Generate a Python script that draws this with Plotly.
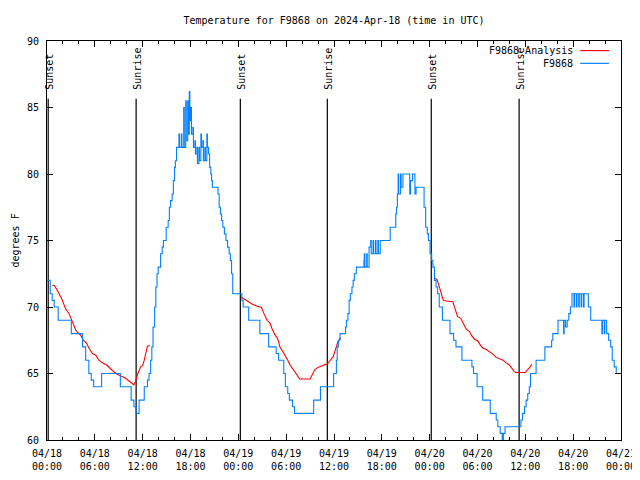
import pandas as pd
import plotly.graph_objects as go

START = pd.Timestamp("2024-04-18 00:00")
END = pd.Timestamp("2024-04-21 00:00")

# F9868 observations: hours after 2024-04-18 00:00 UTC, temperature (deg F)
obs_hours = [
    0.0, 0.4, 0.65, 0.9, 1.4, 3.05, 4.45, 4.85, 5.25, 5.55,
    5.85, 6.85, 9.2, 10.55, 10.9, 11.15, 11.55, 12.2, 12.6, 12.8,
    13.0, 13.15, 13.3, 13.5, 13.65, 13.8, 13.95, 14.25, 14.45, 14.6,
    14.95, 15.2, 15.35, 15.5, 15.7, 15.85, 16.0, 16.1, 16.25, 16.55,
    16.62, 16.85, 16.92, 17.15, 17.22, 17.4, 17.47, 17.65, 17.72, 17.85,
    17.92, 18.05, 18.12, 18.3, 18.37, 18.55, 18.62, 18.8, 18.87, 19.05,
    19.12, 19.3, 19.37, 19.55, 19.62, 19.8, 19.87, 20.05, 20.12, 20.25,
    20.4, 20.55, 20.65, 20.75, 21.45, 21.6, 21.75, 21.9, 22.05, 22.25,
    22.45, 22.65, 22.85, 23.0, 23.15, 23.3, 24.45, 24.6, 25.3, 26.7,
    27.8, 28.75, 29.05, 29.7, 29.9, 30.2, 30.4, 30.8, 31.05, 33.45,
    34.3, 35.95, 36.3, 36.4, 36.55, 36.75, 37.45, 37.55, 37.75, 37.9,
    38.05, 38.25, 38.4, 38.55, 38.8, 39.75, 39.8, 39.87, 40.1, 40.17,
    40.4, 40.6, 40.67, 40.9, 40.97, 41.2, 41.27, 41.5, 41.57, 41.8,
    43.05, 43.75, 43.85, 43.95, 44.05, 44.12, 44.35, 44.42, 44.65, 45.5,
    45.6, 45.85, 46.15, 46.3, 47.3, 47.5, 47.7, 47.85, 48.05, 48.25,
    48.4, 48.6, 48.8, 49.0, 49.2, 49.6, 50.55, 51.0, 51.3, 52.05,
    53.3, 53.5, 53.95, 54.65, 55.6, 56.35, 56.55, 56.85, 57.1, 57.25,
    57.45, 59.45, 59.65, 59.9, 60.1, 60.3, 60.5, 60.65, 61.35, 62.45,
    63.3, 63.45, 64.1, 64.8, 64.87, 65.05, 65.25, 65.45, 65.65, 65.85,
    66.1, 66.17, 66.4, 66.47, 66.7, 66.77, 67.0, 67.07, 67.3, 67.37,
    67.9, 68.2, 69.6, 69.67, 69.9, 69.97, 70.2, 70.45, 70.7, 70.9,
    71.15, 71.4, 72.0,
]
obs_temp = [
    72, 71, 70.5, 70, 69, 68, 67, 66, 65, 64.5,
    64, 65, 64, 63, 62.5, 62, 63, 64, 64.5, 65,
    66, 67, 68.5, 70, 71.5, 72.5, 73, 74, 74.5, 75,
    76, 76.5, 77.5, 78, 78.5, 79.5, 80.5, 81, 82, 83,
    82, 83, 82, 85, 82, 85.5, 82.5, 85.5, 83, 86.2,
    84, 85, 83, 83.5, 82, 82.5, 81.5, 82, 80.8, 82,
    81, 83, 82, 82.5, 81, 82, 81, 83, 82, 81.5,
    80.5, 80, 79.5, 79, 78.5, 77.5, 77, 76.5, 76, 75.5,
    75, 74.5, 74, 73.5, 72.5, 71, 70.5, 70, 69, 68,
    67, 66.5, 66, 65, 64, 63.5, 63, 62.5, 62, 63,
    64, 65, 66, 67, 67.5, 68, 68.5, 69, 69.5, 70.5,
    71, 71.5, 72, 72.5, 73, 73.5, 74, 73, 74, 73,
    74.5, 75, 74, 75, 74, 75, 74, 75, 74, 75,
    76, 77, 77.5, 78.5, 80, 78.5, 80, 79, 80, 78.5,
    79.5, 80, 78.5, 79, 77.5, 76, 75.5, 75, 74, 73.5,
    73, 72, 71.5, 71, 70, 69, 68, 67.5, 67, 66,
    65.5, 65, 64, 63, 62, 61.5, 61, 60.5, 60, 60.5,
    61, 61.5, 62, 62.5, 63, 63.5, 64, 65, 66, 67,
    67.5, 68, 69, 68, 69, 68.5, 69, 69.5, 70, 71,
    70, 71, 70, 71, 70, 71, 70, 71, 70, 71,
    70, 69, 68, 69, 68, 69, 68, 67.5, 67, 66,
    65.5, 65, 65,
]

# F9868 Analysis (three night-time segments, None = gap)
ana_hours = [
    0.67, 0.95, 1.5, 1.9, 2.3, 2.76, 3.18, 3.4, 3.6, 4.0,
    4.2, 4.56, 4.97, 5.27, 5.7, 6.1, 6.5, 6.94, 7.57, 7.99,
    8.4, 8.8, 9.3, 9.87, 10.29, 10.58, 10.9, 11.1, 11.4, 11.75,
    12.0, 12.2, 12.4, 12.6, 12.9, None,
    24.4, 24.8, 25.2, 25.7, 26.3, 26.9, 27.2, 27.6, 28.0, 28.2,
    28.6, 28.9, 29.05, 29.2, 29.6, 29.85, 30.2, 30.5, 30.8, 31.1,
    31.4, 31.7, 33.0, 33.3, 33.6, 34.0, 34.4, 34.9, 35.2, 35.4,
    35.9, 36.1, 36.3, 36.5, 36.85, None,
    48.7, 48.95, 49.15, 49.3, 49.5, 49.7, 50.1, 50.9, 51.1, 51.3,
    51.5, 51.9, 52.2, 52.6, 53.0, 53.2, 53.65, 54.05, 54.4, 54.7,
    55.1, 55.5, 55.9, 56.3, 56.8, 57.2, 57.6, 58.0, 58.3, 58.6,
    58.8, 60.0, 60.3, 60.55, 60.8,
]
ana_temp = [
    71.65, 71.6, 71.03, 70.55, 69.9, 69.5, 68.9, 68.5, 68.27, 68.0,
    67.9, 67.5, 67.27, 66.9, 66.5, 66.4, 66.0, 65.8, 65.6, 65.34,
    65.1, 64.94, 64.81, 64.64, 64.44, 64.26, 64.14, 64.4, 65.0, 65.5,
    65.6, 66.0, 66.5, 67.05, 67.1, None,
    70.73, 70.58, 70.4, 70.23, 70.08, 69.97, 69.52, 69.0, 68.77, 68.4,
    67.9, 67.65, 67.4, 67.0, 66.64, 66.4, 66.0, 65.64, 65.4, 65.14,
    64.89, 64.59, 64.59, 64.9, 65.3, 65.46, 65.56, 65.64, 65.75, 65.9,
    66.27, 66.64, 67.0, 67.4, 67.7, None,
    72.16, 72.03, 71.65, 71.28, 70.9, 70.53, 70.45, 70.4, 70.03, 69.65,
    69.27, 69.15, 68.77, 68.32, 68.15, 67.9, 67.56, 67.45, 67.1, 66.9,
    66.8, 66.65, 66.48, 66.23, 66.1, 66.0, 65.8, 65.64, 65.4, 65.14,
    65.07, 65.07, 65.3, 65.45, 65.7,
]

sun_labels = ["Sunset", "Sunrise", "Sunset", "Sunrise", "Sunset", "Sunrise"]
sun_hours = [0.15, 11.18, 24.25, 35.16, 48.2, 59.22]

y_range = [60, 90]
sun_line_top = 85.65
sun_text_base = 86.2

MONO = "DejaVu Sans Mono"
RED = "#ff0000"
BLUE = "#0080ff"


def to_time(hours):
    return [None if h is None else START + pd.Timedelta(hours=h) for h in hours]


fig = go.Figure()
fig.add_trace(go.Scatter(x=to_time(ana_hours), y=ana_temp, mode="lines",
                         line=dict(color=RED, width=1.1), connectgaps=False,
                         name="F9868 Analysis"))
fig.add_trace(go.Scatter(x=to_time(obs_hours), y=obs_temp, mode="lines",
                         line=dict(color=BLUE, width=1.1, shape="hv"),
                         name="F9868"))

for lab, t in zip(sun_labels, to_time(sun_hours)):
    fig.add_shape(type="line", xref="x", yref="y", x0=t, x1=t,
                  y0=y_range[0], y1=sun_line_top,
                  line=dict(color="black", width=1.2), layer="below")
    fig.add_annotation(x=t, y=sun_text_base, xref="x", yref="y", text=lab,
                       textangle=-90, showarrow=False, xanchor="center",
                       yanchor="bottom", xshift=1,
                       font=dict(family=MONO, size=10, color="black"))

# gnuplot-style key: text then sample line
key_rows = [("F9868 Analysis", RED, 0.976), ("F9868", BLUE, 0.944)]
for txt, col, yy in key_rows:
    fig.add_annotation(x=0.92, y=yy, xref="paper", yref="paper", text=txt,
                       showarrow=False, xanchor="right", yanchor="middle",
                       font=dict(family=MONO, size=10, color="black"))
    fig.add_shape(type="line", xref="paper", yref="paper", x0=0.929, x1=0.979,
                  y0=yy, y1=yy, line=dict(color=col, width=1.2))

fig.add_annotation(x=0, y=0.5, xref="paper", yref="paper", text="degrees F",
                   textangle=-90, showarrow=False, xshift=-32, xanchor="center",
                   yanchor="middle",
                   font=dict(family=MONO, size=10, color="black"))

# page body has an 8px margin: compensate so the plot area lands at 47..621 x 41..440
fig.update_layout(
    width=632, height=472,
    margin=dict(l=39, r=19, t=33, b=40),
    paper_bgcolor="white", plot_bgcolor="white",
    showlegend=False,
    font=dict(family=MONO, size=10, color="black"),
    title=dict(text="Temperature for F9868 on 2024-Apr-18 (time in UTC)",
               x=0.5, xref="paper", y=1 - 12 / 472, yref="container",
               yanchor="middle", font=dict(family=MONO, size=10, color="black")),
)
fig.update_xaxes(
    type="date", range=[START, END], dtick=6 * 3600 * 1000, tick0=START,
    tickformat="%m/%d<br>%H:%M", ticks="inside", ticklen=6, tickcolor="black",
    showline=True, linecolor="black", linewidth=1, mirror="allticks",
    showgrid=False, zeroline=False, automargin=False, ticklabelstandoff=4,
    minor=dict(dtick=2 * 3600 * 1000, ticks="inside", ticklen=3,
               tickcolor="black", showgrid=False),
    tickfont=dict(family=MONO, size=10, color="black"),
)
fig.update_yaxes(
    range=y_range, dtick=5, ticks="inside", ticklen=6, tickcolor="black",
    showline=True, linecolor="black", linewidth=1, mirror="allticks",
    showgrid=False, zeroline=False, automargin=False, ticklabelstandoff=5,
    tickfont=dict(family=MONO, size=10, color="black"),
)

fig.write_html("out.html")
